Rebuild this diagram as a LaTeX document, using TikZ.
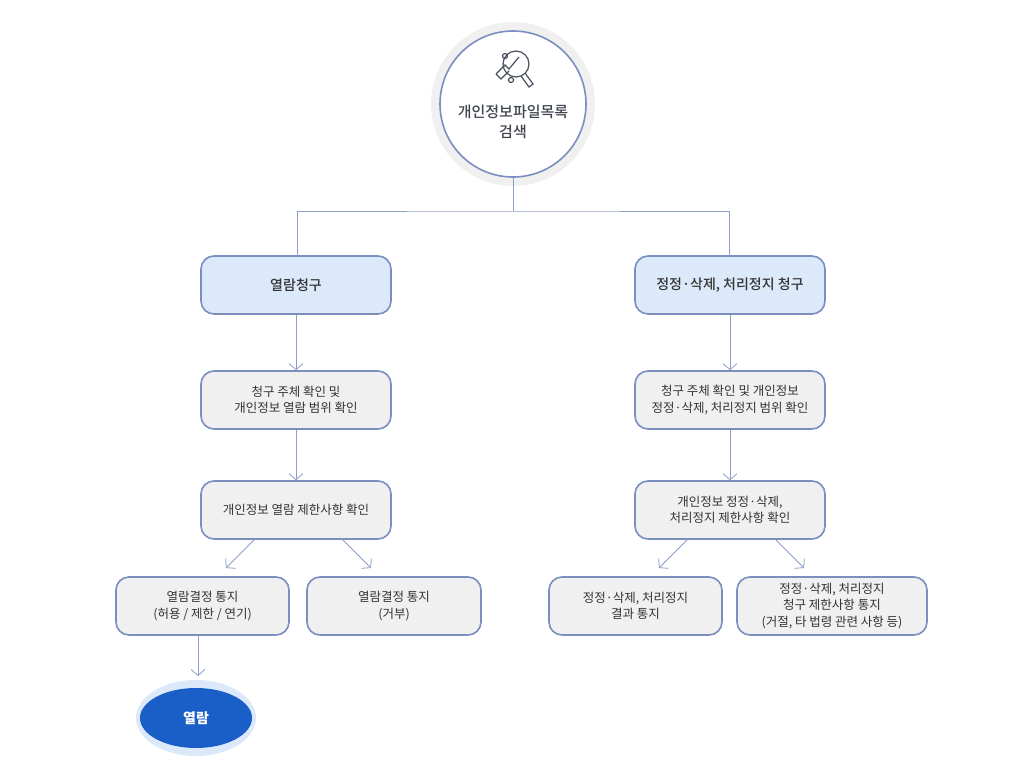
\documentclass[tikz,border=0pt]{standalone}
\usepackage{fontspec}
\setmainfont{Noto Sans CJK KR}
\newfontfamily\medfont{Noto Sans CJK KR Medium}
\usetikzlibrary{arrows.meta,shapes.geometric}
\definecolor{bd}{HTML}{7B8EC0}
\definecolor{ln}{HTML}{8E9DC9}
\definecolor{gb}{HTML}{F0F0F0}
\definecolor{lb}{HTML}{DCE9FB}
\definecolor{tx}{HTML}{333333}
\definecolor{dk}{HTML}{1A5FC8}
\begin{document}
\begin{tikzpicture}[x=1pt,y=-1pt,
  box/.style={draw=bd,line width=1.6pt,rounded corners=13pt,fill=gb,minimum width=#1,minimum height=58pt,align=center,text=tx,font=\fontsize{12.5}{16.5}\selectfont,inner sep=0pt},
  box/.default=190pt,
  hbox/.style={box,fill=lb,font=\fontsize{14}{18}\selectfont\medfont},
  con/.style={draw=ln,line width=0.8pt},
  arr/.style={con,-{Straight Barb[length=6pt,width=14pt]}}]
\useasboundingbox (0,0) rectangle (1026,763);
% top circle
\fill[gb] (513,104) circle (82);
\node[circle,draw=bd,line width=1.6pt,fill=white,minimum size=146pt,inner sep=0pt] (top) at (513,104) {};
\node[text=tx!80!bd,font=\fontsize{15}{20}\selectfont\medfont,align=center] (toptxt) at (513,122) {개인정보파일목록\\검색};
% icon
\begin{scope}[draw=tx!70!bd,line width=1.2pt]
 \draw (516,64) circle (13);
 \draw (525,73) -- (533,84) -- (529,87) -- (521,76);
 \draw (496,74) -- (505,65) -- (509,69) -- (519,57);
 \draw (496,74) -- (501,79) -- (509,71);
 \draw (505,56) circle (2.5);
 \draw (511,80) circle (2.5);
\end{scope}
% boxes
\node[hbox] (a1) at (296,285) {열람청구};
\node[hbox] (b1) at (730,285) {정정·삭제, 처리정지 청구};
\node[box] (a2) at (296,400) {청구 주체 확인 및\\개인정보 열람 범위 확인};
\node[box] (b2) at (730,400) {청구 주체 확인 및 개인정보\\정정·삭제, 처리정지 범위 확인};
\node[box] (a3) at (296,510) {개인정보 열람 제한사항 확인};
\node[box] (b3) at (730,510) {개인정보 정정·삭제,\\처리정지 제한사항 확인};
\node[box=173pt] (a4) at (202.5,606) {열람결정 통지\\(허용 / 제한 / 연기)};
\node[box=174pt] (a5) at (394,606) {열람결정 통지\\(거부)};
\node[box=173pt] (b4) at (635.5,606) {정정·삭제, 처리정지\\결과 통지};
\node[box=190pt] (b5) at (832,606) {정정·삭제, 처리정지\\청구 제한사항 통지\\(거절, 타 법령 관련 사항 등)};
% ellipse
\fill[lb] (196,718) ellipse (60 and 38);
\node[ellipse,fill=dk,minimum width=112pt,minimum height=60pt,inner sep=0pt,text=white,font=\fontsize{14}{18}\selectfont\bfseries] (e) at (196,718) {열람};
% connectors
\coordinate (j) at (513,211);
\draw[con] (top.south) -- (j);
\draw[con] (297,256) |- (j) -| (729,256);
\draw[arr] (a1) -- (a2);
\draw[arr] (a2) -- (a3);
\draw[arr] (b1) -- (b2);
\draw[arr] (b2) -- (b3);
\draw[arr] (255,539) -- (226,568);
\draw[arr] (342,539) -- (371,568);
\draw[arr] (688,539) -- (659,568);
\draw[arr] (775,539) -- (804,568);
\draw[arr] (198,635) -- (198,676);
\end{tikzpicture}
\end{document}
